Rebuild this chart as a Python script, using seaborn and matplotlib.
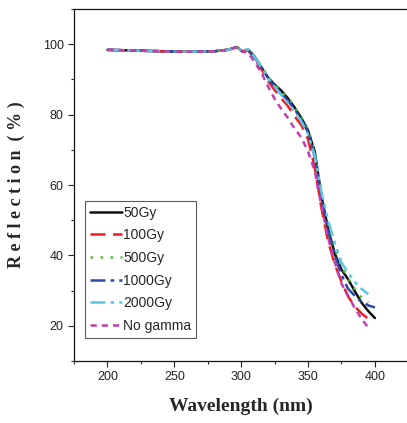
import numpy as np
import pandas as pd
import matplotlib
matplotlib.use("Agg")
import matplotlib.pyplot as plt
import seaborn as sns
from matplotlib.ticker import MultipleLocator

# wavelength grid (nm)
wavelength = [200, 210, 220, 230, 240, 250, 260, 270, 280, 290, 297, 301, 305,
              310, 315, 320, 325, 330, 335, 340, 345, 350, 355, 360, 365, 370,
              375, 380, 385, 390, 395, 400]

flat = [98.4, 98.3, 98.2, 98.1, 98.0, 97.9, 97.9, 97.9, 98.0, 98.4, 99.2, 97.9]

r_50 = flat + [98.5, 96.5, 93.5, 90.6, 88.5, 86.8, 84.6, 82.0, 79.0, 75.5, 69.5,
               57.0, 47.5, 40.5, 36.0, 33.2, 29.8, 26.6, 24.2, 22.2]
r_100 = flat + [98.3, 96.0, 93.0, 89.5, 87.0, 84.6, 82.4, 79.5, 77.0, 73.0, 65.0,
                53.5, 44.0, 37.5, 32.5, 28.3, 25.5, 23.5, 22.0, np.nan]
r_500 = flat + [98.6, 96.6, 93.8, 90.8, 88.5, 86.6, 84.6, 82.2, 79.2, 76.0, 69.5,
                57.5, 49.0, 42.0, 37.0, 33.5, 30.5, 28.0, 26.5, np.nan]
r_1000 = flat + [98.5, 96.2, 93.5, 90.5, 88.0, 86.0, 84.0, 81.5, 78.5, 75.0, 68.0,
                 56.0, 47.0, 40.0, 34.5, 30.5, 28.5, 26.8, 25.8, 25.2]
r_2000 = flat + [98.6, 96.4, 93.5, 90.4, 88.0, 85.6, 83.2, 81.0, 78.0, 74.5, 68.5,
                 58.0, 50.0, 43.5, 38.0, 35.0, 32.5, 30.5, 29.0, np.nan]
r_none = flat + [97.6, 95.0, 92.0, 88.0, 84.5, 81.6, 79.0, 76.0, 73.5, 69.5, 64.0,
                 54.0, 45.0, 38.0, 32.0, 28.5, 25.0, 22.0, 19.5, np.nan]

labels = ["50Gy", "100Gy", "500Gy", "1000Gy", "2000Gy", "No gamma"]
series = [r_50, r_100, r_500, r_1000, r_2000, r_none]
colors = ["#111111", "#ee1c24", "#5dbb3a", "#2b4aa8", "#5cc7e4", "#c23fae"]
styles = ["-", (0, (6, 3)), (0, (1, 3)), (0, (6, 2, 1.5, 2)),
          (0, (6, 2, 1.5, 2, 1.5, 2)), (0, (2.5, 2))]

sns.set_style("ticks")
plt.rcParams["font.family"] = ["Liberation Sans", "DejaVu Sans"]

fig = plt.figure(figsize=(4.07, 4.23), dpi=100)
ax = fig.add_axes([74 / 407, 62 / 423, 333 / 407, 352 / 423])

for lab, vals, c, ls in zip(labels, series, colors, styles):
    df = pd.DataFrame({"wl": wavelength, "R": vals}).dropna()
    sns.lineplot(data=df, x="wl", y="R", ax=ax, color=c, linestyle=ls,
                 linewidth=1.8, label=lab)

ax.set_xlim(175, 424)
ax.set_ylim(10, 110)
ax.xaxis.set_major_locator(MultipleLocator(50))
ax.xaxis.set_minor_locator(MultipleLocator(25))
ax.yaxis.set_major_locator(MultipleLocator(20))
ax.yaxis.set_minor_locator(MultipleLocator(10))
ax.set_xticks([200, 250, 300, 350, 400])
ax.set_yticks([20, 40, 60, 80, 100])
ax.tick_params(which="major", direction="out", length=4, width=0.8,
               labelsize=9, colors="#222222")
ax.tick_params(which="minor", direction="out", length=2.5, width=0.8)
for s in ["left", "bottom", "top"]:
    ax.spines[s].set_color("#111111")
    ax.spines[s].set_linewidth(0.9)
ax.spines["right"].set_visible(False)

ax.set_xlabel("Wavelength (nm)", family="Liberation Serif", fontweight="bold",
              fontsize=14, labelpad=10)
ax.set_ylabel("R e f l e c t i o n  ( % )", family="Liberation Serif",
              fontweight="bold", fontsize=13, labelpad=13)

leg = ax.legend(loc="upper left", bbox_to_anchor=(0.033, 0.455), frameon=True,
                fancybox=False, edgecolor="#333333", fontsize=10,
                handlelength=2.3, handletextpad=0.1, labelspacing=0.62,
                borderpad=0.35, borderaxespad=0)
leg.get_frame().set_linewidth(0.8)

fig.savefig("out.png", dpi=100)
